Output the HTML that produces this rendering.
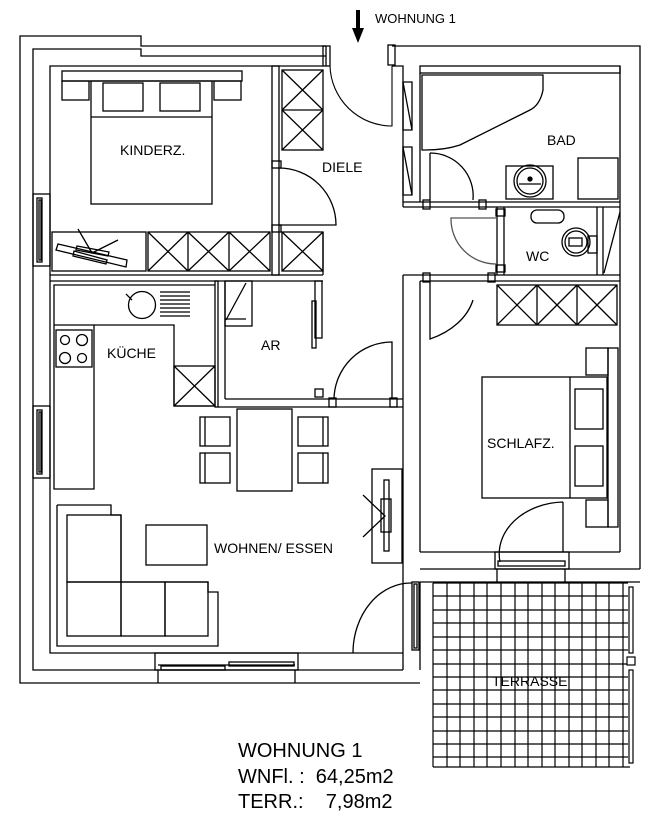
<!DOCTYPE html>
<html><head><meta charset="utf-8"><style>
html,body{margin:0;padding:0;background:#fff}
svg{display:block}
text{font-family:"Liberation Sans",sans-serif;fill:#000}
</style></head><body>
<svg width="663" height="826" viewBox="0 0 663 826" xmlns="http://www.w3.org/2000/svg">
<g fill="none" stroke="#000" stroke-width="1.3">
<polyline points="326,46 141,46 141,36 20,36 20,683 420,683"/>
<polyline points="326,56 141,56 141,49 33,49 33,670 403,670"/>
<polyline points="323,66 50,66 50,653 403,653"/>
<line x1="326" y1="46" x2="326" y2="66"/>
<rect x="323" y="46" width="7" height="20"/>
<rect x="388" y="45" width="7" height="20"/>
<polyline points="392,46 640,46 640,569"/>
<polyline points="392,66 403,66 403,207"/>
<rect x="420" y="66" width="200" height="7"/>
<line x1="420" y1="73" x2="420" y2="202"/>
<line x1="620" y1="66" x2="620" y2="552"/>
<polygon points="403,82 412,82 412,130 403,130"/><line x1="403" y1="82" x2="412" y2="130"/>
<polygon points="403,147 412,147 412,195 403,195"/><line x1="403" y1="147" x2="412" y2="195"/>
<line x1="403" y1="202" x2="620" y2="202"/><line x1="403" y1="207" x2="620" y2="207"/>
<rect x="423" y="200" width="7" height="9"/><rect x="479" y="200" width="7" height="9"/>
<line x1="497" y1="207" x2="497" y2="275"/><line x1="504" y1="207" x2="504" y2="275"/>
<rect x="496" y="209" width="9" height="7"/><rect x="496" y="265" width="9" height="7"/>
<line x1="597" y1="207" x2="597" y2="275"/><line x1="603" y1="207" x2="603" y2="275"/>
<line x1="620" y1="212" x2="604" y2="273"/>
<line x1="403" y1="275" x2="620" y2="275"/><line x1="420" y1="281" x2="620" y2="281"/>
<rect x="423" y="273" width="7" height="9"/><rect x="488" y="273" width="7" height="9"/>
<line x1="403" y1="275" x2="403" y2="670"/><line x1="420" y1="281" x2="420" y2="552"/>
<path d="M422,75 L543,75 L543,90 Q540,105 530,110 L460,145 Q445,150 425,150 L422,150 Z"/>
<path d="M430,153 A43,43 0 0 1 473,200"/><line x1="430" y1="153" x2="430" y2="200"/>
<rect x="506" y="166" width="47" height="33"/>
<circle cx="530" cy="181" r="16"/><circle cx="530" cy="181" r="13"/><line x1="519" y1="184" x2="541" y2="184"/>
<circle cx="530" cy="179" r="2" fill="#000"/>
<rect x="578" y="158" width="40" height="41"/>
<rect x="531" y="210" width="33" height="13" rx="6"/>
<circle cx="576" cy="242" r="14"/><circle cx="576" cy="242" r="11"/>
<rect x="569" y="238" width="13" height="8"/><rect x="588" y="236" width="9" height="17"/>
<path d="M497,218 L451,218 A45,45 0 0 0 496,264" stroke="#555"/>
<rect x="497" y="285" width="120" height="40"/>
<line x1="537" y1="285" x2="537" y2="325"/><line x1="577" y1="285" x2="577" y2="325"/>
<path d="M497,285 L537,325 M537,285 L497,325 M537,285 L577,325 M577,285 L537,325 M577,285 L617,325 M617,285 L577,325"/>
<path d="M430,282 L430,339 A76,57 0 0 0 473,300" />
<rect x="482" y="377" width="125" height="121"/><line x1="570" y1="377" x2="570" y2="498"/>
<rect x="575" y="389" width="28" height="40"/><rect x="575" y="446" width="28" height="40"/>
<rect x="608" y="348" width="10" height="179"/>
<rect x="586" y="348" width="22" height="27"/><rect x="586" y="500" width="22" height="27"/>
<path d="M563,502 L563,552 M563,502 A66,52 0 0 0 500,562"/>
<line x1="420" y1="552" x2="620" y2="552"/>
<rect x="495" y="552" width="74" height="17"/><rect x="498" y="561" width="67" height="5"/>
<line x1="420" y1="569" x2="640" y2="569"/>
<line x1="420" y1="582" x2="640" y2="582"/>
<line x1="497" y1="569" x2="497" y2="582"/><line x1="565" y1="569" x2="565" y2="582"/>
<line x1="420" y1="582" x2="420" y2="670"/>
<rect x="412" y="582" width="7" height="68"/><rect x="414" y="584" width="3" height="64"/>
<path d="M412,583 A58,70 0 0 0 353,653"/>
<rect x="272" y="66" width="7" height="209"/>
<rect x="62" y="71" width="180" height="10"/>
<rect x="62" y="81" width="27" height="19"/><rect x="214" y="81" width="27" height="19"/>
<rect x="91" y="81" width="121" height="123"/><line x1="91" y1="117" x2="212" y2="117"/>
<rect x="103" y="83" width="40" height="28"/><rect x="160" y="83" width="40" height="28"/>
<rect x="282" y="70" width="41" height="80"/><line x1="282" y1="110" x2="323" y2="110"/>
<path d="M282,70 L323,110 M323,70 L282,110 M282,110 L323,150 M323,110 L282,150"/>
<path d="M279,168 A57,57 0 0 1 336,225 L279,225"/>
<rect x="272" y="161" width="9" height="7"/><rect x="272" y="225" width="9" height="7"/>
<rect x="282" y="232" width="41" height="39"/><path d="M282,232 L323,271 M323,232 L282,271"/>
<rect x="52" y="232" width="94" height="39"/>
<rect x="148" y="232" width="122" height="39"/>
<line x1="188" y1="232" x2="188" y2="271"/><line x1="229" y1="232" x2="229" y2="271"/>
<path d="M148,232 L188,271 M188,232 L148,271 M188,232 L229,271 M229,232 L188,271 M229,232 L270,271 M270,232 L229,271"/>
<polygon points="58,244 127,260 126,267 56,250"/>
<polygon points="77,246 109,252 108,256 76,250"/>
<polygon points="74,251 107,260 106,264 73,256"/>
<path d="M78,229 L92,253 L118,240"/>
<rect x="33" y="194" width="17" height="72"/><rect x="37" y="198" width="5" height="64"/><rect x="39" y="200" width="2" height="60"/>
<rect x="33" y="406" width="17" height="72"/><rect x="37" y="410" width="5" height="64"/><rect x="39" y="412" width="2" height="60"/>
<line x1="50" y1="275" x2="323" y2="275"/><line x1="50" y1="281" x2="323" y2="281"/>
<line x1="323" y1="275" x2="323" y2="232"/>
<rect x="215" y="281" width="3" height="126"/>
<polyline points="54,325 54,285 215,285"/>
<polyline points="54,325 94,325 94,489 54,489 54,325"/>
<polyline points="94,325 174,325 174,406 215,406"/>
<rect x="56" y="330" width="36" height="37"/>
<circle cx="65" cy="340" r="4.5"/><circle cx="82" cy="340" r="5.5"/><circle cx="65" cy="358" r="5.5"/><circle cx="82" cy="358" r="4.5"/>
<circle cx="142" cy="305" r="13.5"/><path d="M126,294 L132,300"/>
<path d="M160,292 H190 M160,296 H190 M160,300 H190 M160,304 H190 M160,308 H190 M160,312 H190 M160,316 H190"/>
<rect x="174" y="366" width="41" height="40"/><path d="M174,366 L215,406 M215,366 L174,406"/>
<line x1="225" y1="281" x2="225" y2="399"/>
<line x1="225" y1="399" x2="403" y2="399"/><line x1="218" y1="407" x2="403" y2="407"/>
<rect x="225" y="281" width="27" height="45"/><line x1="226" y1="320" x2="246" y2="283"/><line x1="225" y1="319" x2="246" y2="319"/>
<rect x="315" y="281" width="7" height="57"/><rect x="312" y="301" width="4" height="47"/>
<rect x="315" y="389" width="8" height="8"/>
<rect x="329" y="398" width="7" height="9"/><rect x="390" y="398" width="7" height="9"/>
<path d="M334,399 A58,58 0 0 1 392,342 L392,399"/>
<rect x="237" y="409" width="55" height="82"/>
<rect x="200" y="417" width="30" height="29"/><line x1="205" y1="417" x2="205" y2="446"/>
<rect x="200" y="453" width="30" height="30"/><line x1="205" y1="453" x2="205" y2="483"/>
<rect x="298" y="417" width="30" height="29"/><line x1="323" y1="417" x2="323" y2="446"/>
<rect x="298" y="453" width="30" height="30"/><line x1="323" y1="453" x2="323" y2="483"/>
<rect x="372" y="469" width="30" height="94"/>
<rect x="384" y="480" width="5" height="71"/><rect x="381" y="499" width="10" height="33"/>
<path d="M363,495 L385,516 L363,537"/>
<polyline points="57,505 111,505 111,515 121,515 121,582 208,582 208,592 218,592 218,646 57,646 57,505"/>
<rect x="67" y="515" width="54" height="67"/>
<rect x="67" y="582" width="54" height="54"/><rect x="121" y="582" width="44" height="54"/><rect x="165" y="582" width="43" height="54"/>
<rect x="146" y="525" width="61" height="40"/>
<rect x="155" y="653" width="143" height="17"/>
<line x1="158" y1="665" x2="295" y2="665"/>
<rect x="161" y="666" width="64" height="4"/><rect x="229" y="662" width="65" height="4"/>
<line x1="158" y1="670" x2="158" y2="683"/><line x1="295" y1="670" x2="295" y2="683"/>
</g>
<g stroke="#000" stroke-width="1.2" fill="none">
<path d="M433,583 V767 M447,583 V767 M460,583 V767 M474,583 V767 M487,583 V767 M501,583 V767 M515,583 V767 M528,583 V767 M542,583 V767 M555,583 V767 M569,583 V767 M582,583 V767 M596,583 V767 M609,583 V767 M623,583 V767"/>
<path d="M433,583 H628 M433,596 H628 M433,610 H628 M433,623 H628 M433,637 H628 M433,650 H628 M433,664 H628 M433,677 H628 M433,690 H628 M433,704 H628 M433,717 H628 M433,731 H628 M433,744 H628 M433,757 H628 M433,767 H630"/>
<rect x="629" y="587" width="4" height="66" fill="#fff"/><rect x="627" y="657" width="8" height="8" fill="#fff"/><rect x="629" y="670" width="4" height="93" fill="#fff"/>
</g>
<rect x="356" y="10" width="4" height="20" fill="#000"/>
<polygon points="352,28 364,28 358,43" fill="#000"/>
<path d="M330,66 A62,62 0 0 0 392,126 L392,66" fill="none" stroke="#000" stroke-width="1.1"/>
<text x="375" y="23" font-size="13">WOHNUNG 1</text>
<text x="120" y="155" font-size="14">KINDERZ.</text>
<text x="322" y="172" font-size="14">DIELE</text>
<text x="547" y="145" font-size="14">BAD</text>
<text x="526" y="261" font-size="14">WC</text>
<text x="107" y="358" font-size="14">KÜCHE</text>
<text x="261" y="350" font-size="14">AR</text>
<text x="487" y="448" font-size="14">SCHLAFZ.</text>
<text x="214" y="553" font-size="14">WOHNEN/ ESSEN</text>
<text x="492" y="686" font-size="14">TERRASSE</text>
<text x="238" y="757" font-size="20">WOHNUNG 1</text>
<text x="238" y="783" font-size="20" xml:space="preserve">WNFl. :  64,25m2</text>
<text x="238" y="808" font-size="20" xml:space="preserve">TERR.:    7,98m2</text>
</svg>
</body></html>
